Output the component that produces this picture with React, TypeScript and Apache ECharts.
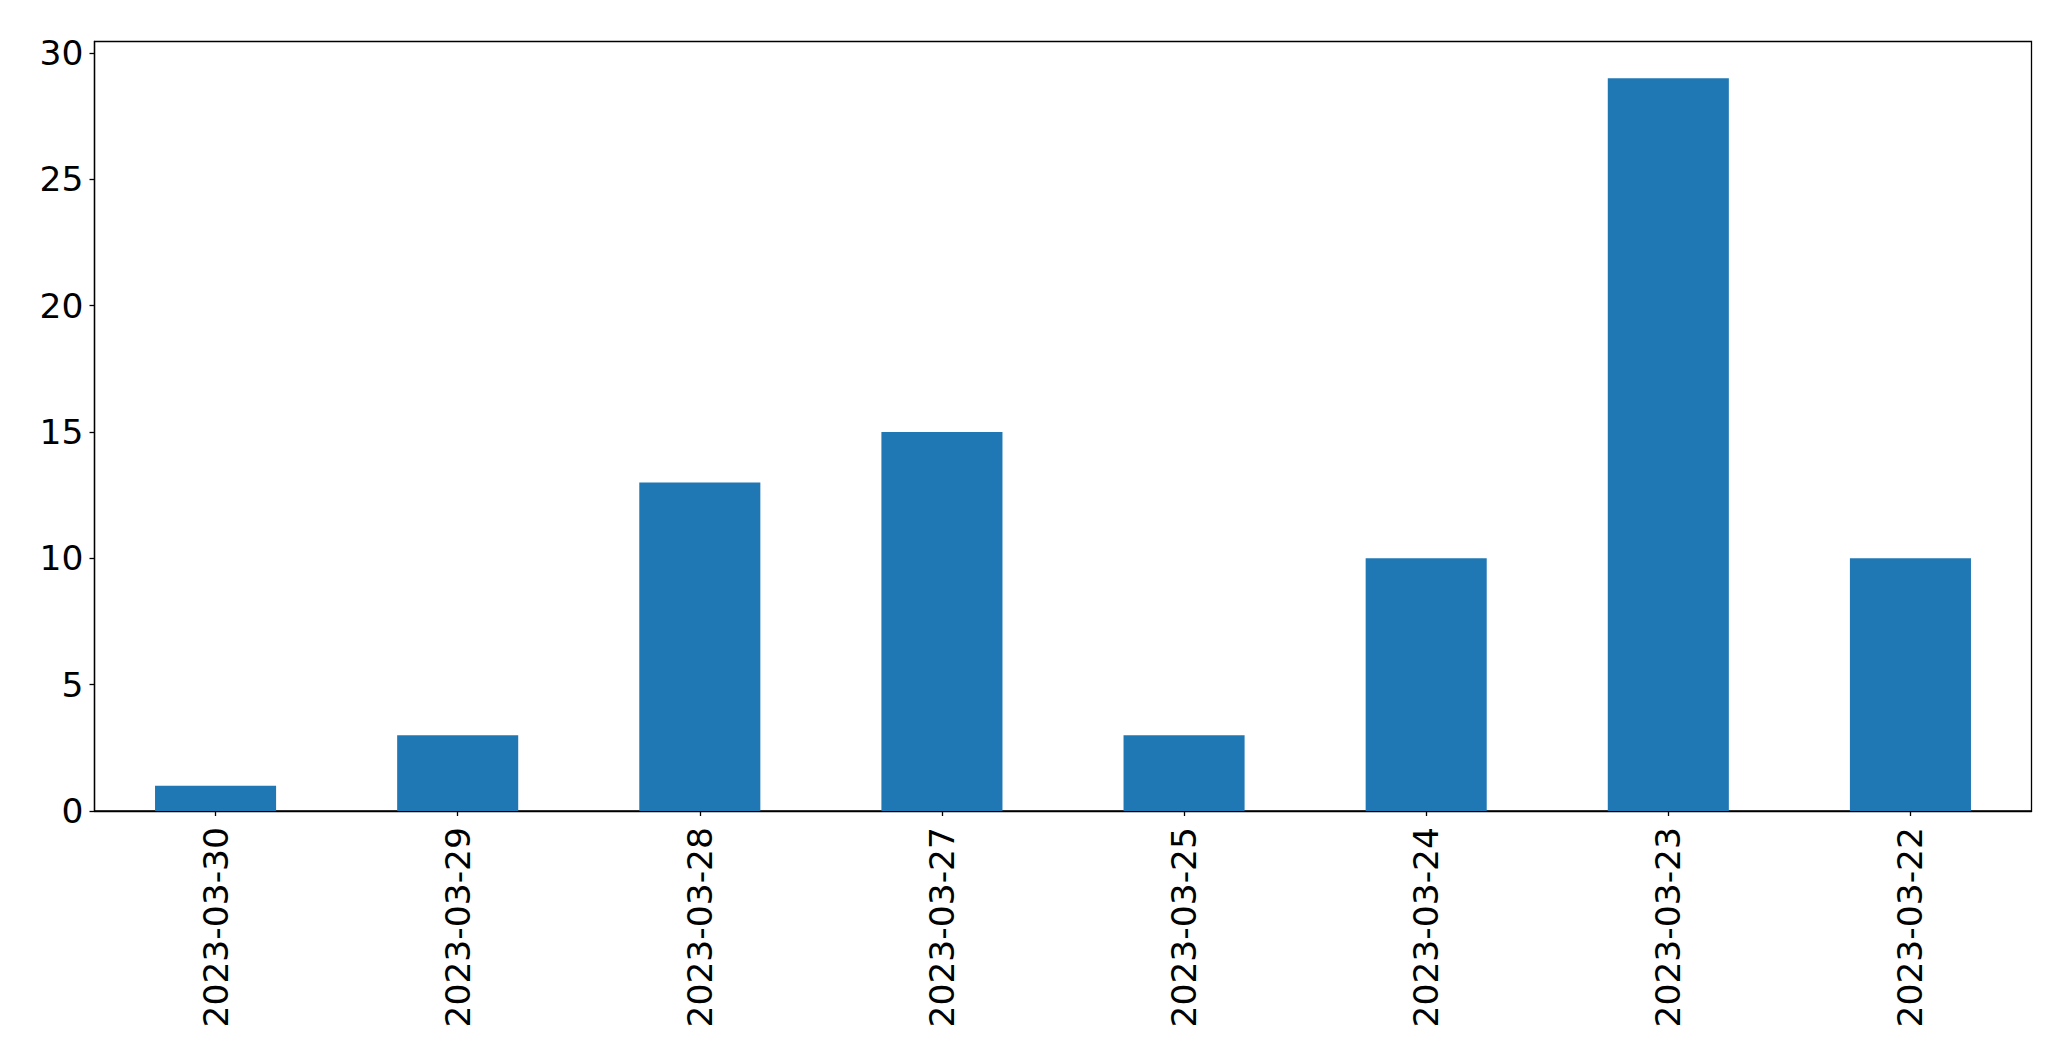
import React, { useEffect, useRef } from "react";
import * as echarts from "echarts";

const categories = [
  "2023-03-30",
  "2023-03-29",
  "2023-03-28",
  "2023-03-27",
  "2023-03-25",
  "2023-03-24",
  "2023-03-23",
  "2023-03-22",
];
const counts = [1, 3, 13, 15, 3, 10, 29, 10];
const yTicks = [0, 5, 10, 15, 20, 25, 30];

export default function App() {
  const ref = useRef<HTMLDivElement>(null);
  useEffect(() => {
    if (!ref.current) return;
    const chart = echarts.init(ref.current, null, { renderer: "svg" });
    const font = "DejaVu Sans";
    chart.setOption({
      animation: false,
      backgroundColor: "#ffffff",
      grid: {
        left: 94.5,
        top: 41.5,
        right: 39.5,
        bottom: 252,
        show: true,
        borderColor: "#000000",
        borderWidth: 1.3,
        backgroundColor: "transparent",
      },
      xAxis: {
        type: "category",
        data: categories,
        axisLine: { show: true, lineStyle: { color: "#000", width: 1.3 } },
        axisTick: { show: true, alignWithLabel: true, length: 5, lineStyle: { color: "#000", width: 1.3 } },
        axisLabel: {
          rotate: 90,
          fontFamily: font,
          fontSize: 34.5,
          color: "#000",
          margin: 16,
          interval: 0,
        },
        splitLine: { show: false },
      },
      yAxis: {
        type: "value",
        min: 0,
        max: 30.45,
        interval: 5,
        axisLine: { show: true, lineStyle: { color: "#000", width: 1.3 } },
        axisTick: { show: true, length: 5, lineStyle: { color: "#000", width: 1.3 } },
        axisLabel: {
          fontFamily: font,
          fontSize: 34.5,
          color: "#000",
          margin: 11,
          showMaxLabel: false,
          formatter: (v: number) => (yTicks.includes(v) ? String(v) : ""),
        },
        splitLine: { show: false },
      },
      series: [
        {
          type: "bar",
          data: counts,
          barWidth: "50%",
          itemStyle: { color: "#1f77b4" },
        },
      ],
    });
    return () => chart.dispose();
  }, []);
  return (
    <div
      ref={ref}
      style={{ position: "fixed", left: 0, top: 0, width: 2071, height: 1063, background: "#fff" }}
    />
  );
}
